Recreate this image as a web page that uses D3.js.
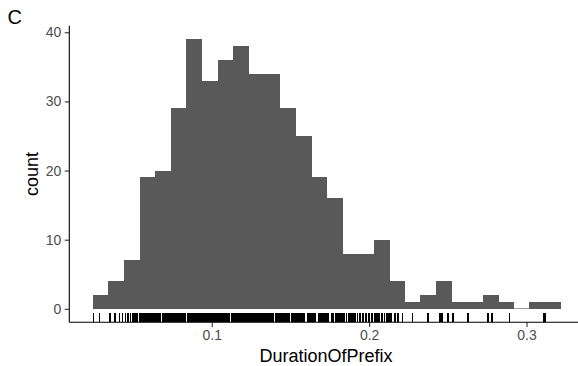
<!DOCTYPE html>
<html lang="en">
<head>
    <meta charset="UTF-8">
    <title>DurationOfPrefix histogram</title>
    <script src="https://d3js.org/d3.v7.min.js"></script>
    <style>
        body {
            margin: 0;
            background: white;
        }
        svg {
            display: block;
            font-family: "Liberation Sans", Arial, Helvetica, sans-serif;
        }
        .tick-label {
            fill: #4d4d4d;
            font-size: 14px;
        }
        .axis-title {
            fill: black;
            font-size: 18px;
        }
    </style>
</head>
<body>
    <div id="chart"></div>
    <script>
        const width = 578;
        const height = 366;

        // histogram: 30 bins
        const firstBinStart = 0.0244;
        const binWidth = 0.00991;
        const counts = [2, 4, 7, 19, 20, 29, 39, 33, 36, 38,
                        34, 34, 29, 25, 19, 16, 8, 8, 10, 4,
                        1, 2, 4, 1, 1, 2, 1, 0, 1, 1];

        // rug positions (DurationOfPrefix values), estimated from the ticks
        const rugLeft = [0.0249, 0.0287, 0.0354, 0.0385, 0.0414, 0.0433,
                         0.0452, 0.0468, 0.0484, 0.0500, 0.0512, 0.0525];
        const rugDense = [0.054, 0.055, 0.056, 0.057, 0.058, 0.059, 0.060, 0.061, 0.062, 0.063,
                          0.064, 0.065, 0.066, 0.067, 0.069, 0.070, 0.071, 0.072, 0.073, 0.074,
                          0.075, 0.076, 0.077, 0.078, 0.079, 0.080, 0.081, 0.082, 0.083, 0.085,
                          0.086, 0.087, 0.088, 0.089, 0.090, 0.091, 0.092, 0.093, 0.094, 0.095,
                          0.096, 0.097, 0.098, 0.099, 0.100, 0.101, 0.102, 0.103, 0.104, 0.105,
                          0.106, 0.107, 0.108, 0.109, 0.110, 0.111, 0.113, 0.114, 0.115, 0.116,
                          0.117, 0.118, 0.119, 0.120, 0.121, 0.122, 0.123, 0.124, 0.125, 0.126,
                          0.127, 0.128, 0.129, 0.130, 0.131, 0.132, 0.133, 0.134, 0.135, 0.136,
                          0.137, 0.138, 0.139, 0.141, 0.142, 0.143, 0.144, 0.145, 0.146, 0.147,
                          0.148, 0.149, 0.151, 0.152, 0.153, 0.154, 0.155, 0.156, 0.157, 0.158,
                          0.159, 0.161, 0.162, 0.163, 0.164, 0.165, 0.166, 0.168, 0.169, 0.170,
                          0.171, 0.172, 0.173, 0.174, 0.176, 0.177, 0.179, 0.180, 0.181, 0.182,
                          0.183, 0.184];
        const rugMid = [0.1855, 0.1871, 0.1884, 0.1897, 0.1909, 0.1925, 0.1941, 0.1960, 0.1979,
                        0.2001, 0.2017, 0.2036, 0.2049, 0.2062, 0.2081, 0.2097, 0.2112, 0.2128];
        const rugRight = [0.2138, 0.2163, 0.2182, 0.2212, 0.2276, 0.2371, 0.2378, 0.2452, 0.2455,
                          0.2466, 0.2502, 0.2533, 0.2629, 0.2754, 0.2779, 0.2891, 0.3111, 0.3117];

        const xTicks = [0.1, 0.2, 0.3];
        const yTicks = [0, 10, 20, 30, 40];

        const panel = {left: 69.3, right: 578, top: 25.7, bottom: 322.3};

        const svg = d3.select("#chart").append("svg")
            .attr("width", width)
            .attr("height", height);

        const x = d3.scaleLinear()
            .domain([0.0095, 0.3327])
            .range([panel.left, panel.right]);
        const y = d3.scaleLinear()
            .domain([-1.95, 40.95])
            .range([panel.bottom, panel.top]);

        const bins = counts.map((c, i) => ({
            x0: firstBinStart + i * binWidth,
            x1: firstBinStart + (i + 1) * binWidth,
            count: c
        }));

        // bars (an empty bin still leaves a hairline at zero, like ggplot)
        svg.append("g")
            .attr("shape-rendering", "crispEdges")
            .selectAll("rect")
            .data(bins)
            .join("rect")
            .attr("x", d => x(d.x0))
            .attr("width", d => x(d.x1) - x(d.x0) + 0.5)
            .attr("y", d => d.count > 0 ? y(d.count) : y(0) - 1)
            .attr("height", d => d.count > 0 ? y(0) - y(d.count) : 1)
            .attr("fill", d => d.count > 0 ? "#595959" : "#9a9a9a");

        // rug
        const rug = rugLeft.concat(rugDense, rugMid, rugRight);
        const rugLen = 0.03 * (panel.bottom - panel.top);
        svg.append("g")
            .attr("shape-rendering", "crispEdges")
            .selectAll("line")
            .data(rug)
            .join("line")
            .attr("x1", d => x(d))
            .attr("x2", d => x(d))
            .attr("y1", panel.bottom)
            .attr("y2", panel.bottom - rugLen)
            .attr("stroke", "black")
            .attr("stroke-width", 1.6);

        // axes
        const xAxis = svg.append("g")
            .attr("transform", `translate(0,${panel.bottom})`)
            .call(d3.axisBottom(x).tickValues(xTicks).tickSize(4.6).tickPadding(3).tickFormat(d3.format(".1f")));
        const yAxis = svg.append("g")
            .attr("transform", `translate(${panel.left},0)`)
            .call(d3.axisLeft(y).tickValues(yTicks).tickSize(4.6).tickPadding(3.5));

        [xAxis, yAxis].forEach(g => {
            g.attr("font-size", null).attr("font-family", null);
            g.select(".domain").remove();
            g.selectAll(".tick line").attr("stroke", "#333333").attr("stroke-width", 1.1);
            g.selectAll(".tick text").attr("class", "tick-label");
        });

        // axis lines
        svg.append("line")
            .attr("x1", panel.left).attr("x2", panel.right)
            .attr("y1", panel.bottom).attr("y2", panel.bottom)
            .attr("stroke", "black").attr("stroke-width", 1.1);
        svg.append("line")
            .attr("x1", panel.left).attr("x2", panel.left)
            .attr("y1", panel.top).attr("y2", panel.bottom)
            .attr("stroke", "black").attr("stroke-width", 1.1);

        // titles
        svg.append("text")
            .attr("class", "axis-title")
            .attr("x", 326)
            .attr("y", 361.5)
            .attr("text-anchor", "middle")
            .text("DurationOfPrefix");
        svg.append("text")
            .attr("class", "axis-title")
            .attr("transform", `translate(37.5,${(panel.top + panel.bottom) / 2}) rotate(-90)`)
            .attr("text-anchor", "middle")
            .text("count");

        // panel tag
        svg.append("text")
            .attr("x", 7.5)
            .attr("y", 23.5)
            .attr("font-size", "20px")
            .attr("fill", "black")
            .text("C");
    </script>
</body>
</html>
